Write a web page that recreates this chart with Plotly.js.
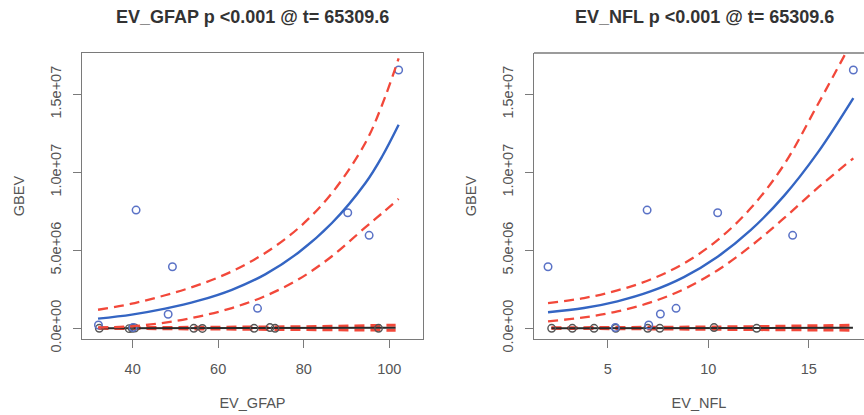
<!DOCTYPE html>
<html>
<head>
<meta charset="utf-8">
<script src="https://cdn.plot.ly/plotly-3.0.1.min.js"></script>
<style>html,body{margin:0;padding:0;background:#fff;}#chart{width:864px;height:415px;}</style>
</head>
<body>
<div id="chart"></div>
<script>
// ---------- data ----------
const titles = ["EV_GFAP p <0.001 @ t= 65309.6", "EV_NFL p <0.001 @ t= 65309.6"];
const xLabels = ["EV_GFAP", "EV_NFL"];
const yLabel = "GBEV";
const yTickVals = [0, 5e6, 1e7, 1.5e7];
const yTickText = ["0.0e+00", "5.0e+06", "1.0e+07", "1.5e+07"];
const gfapTickVals = [40, 60, 80, 100];
const nflTickVals = [5, 10, 15];

// left panel: EV_GFAP
const gfapBlueX = [32.0, 40.1, 40.8, 48.3, 49.3, 69.2, 90.3, 95.3, 102.2];
const gfapBlueY = [0.21e6, 0.05e6, 7.58e6, 0.9e6, 3.95e6, 1.28e6, 7.41e6, 5.96e6, 16.56e6];
const gfapBlackX = [32.2, 39.2, 39.9, 40.5, 54.3, 56.3, 68.4, 72.1, 73.3, 97.5];
const gfapBlackY = [0, -0.02e6, 0, 0.02e6, 0, -0.01e6, 0, 0.05e6, 0, 0];
const gfapCurveX = [31.9, 39.8, 47.6, 55.4, 63.2, 71.0, 78.8, 86.6, 94.4, 98.3, 102.2];
const gfapFit   = [0.62e6, 0.88e6, 1.26e6, 1.77e6, 2.47e6, 3.46e6, 4.86e6, 6.75e6, 9.3e6, 11.0e6, 13.05e6];
const gfapUpper = [1.19e6, 1.58e6, 2.12e6, 2.78e6, 3.65e6, 4.83e6, 6.43e6, 8.67e6, 11.88e6, 14.3e6, 17.3e6];
const gfapLower = [0.05e6, 0.13e6, 0.37e6, 0.75e6, 1.30e6, 2.07e6, 3.14e6, 4.62e6, 6.47e6, 7.37e6, 8.30e6];
const gfapZeroX = [32.0, 60.0, 80.0, 101.5];
const gfapZeroFit = [0.01e6, 0.015e6, 0.02e6, 0.03e6];
const gfapZeroUpper = [0.03e6, 0.06e6, 0.1e6, 0.2e6];
const gfapZeroLower = [0.0, -0.03e6, -0.06e6, -0.12e6];

// right panel: EV_NFL
const nflBlueX = [2.03, 5.38, 6.96, 7.04, 7.62, 8.4, 10.47, 14.2, 17.22];
const nflBlueY = [3.95e6, 0.05e6, 7.58e6, 0.21e6, 0.92e6, 1.28e6, 7.41e6, 5.96e6, 16.56e6];
const nflBlackX = [2.21, 3.24, 4.32, 5.40, 6.99, 7.59, 10.29, 12.41];
const nflBlackY = [0, 0, 0, 0, 0, 0, 0.05e6, 0];
const nflCurveX = [2.03, 3.82, 5.48, 7.13, 8.79, 10.45, 12.11, 13.77, 15.43, 17.22];
const nflFit   = [1.03e6, 1.30e6, 1.73e6, 2.36e6, 3.28e6, 4.57e6, 6.29e6, 8.49e6, 11.23e6, 14.76e6];
const nflUpper = [1.62e6, 1.94e6, 2.43e6, 3.13e6, 4.16e6, 5.64e6, 7.69e6, 10.49e6, 14.3e6, 18.55e6];
const nflLower = [0.45e6, 0.70e6, 1.08e6, 1.66e6, 2.51e6, 3.71e6, 5.26e6, 7.06e6, 8.98e6, 10.9e6];
const nflZeroX = [2.2, 8.0, 12.0, 17.2];
const nflZeroFit = [0.01e6, 0.015e6, 0.02e6, 0.03e6];
const nflZeroUpper = [0.03e6, 0.06e6, 0.1e6, 0.2e6];
const nflZeroLower = [0.0, -0.03e6, -0.06e6, -0.12e6];

// ---------- styles ----------
const BLUE_LINE = "#3465c3";
const BLUE_PT = "#5a72c6";
const RED = "#f2483a";
const BLACK = "#2a2a2a";
const GREY = "#555555";
const FONT = "Liberation Sans, Arial, Helvetica, sans-serif";

function panel(xa, ya, blueX, blueY, blackX, blackY, cx, fit, up, lo, zx, zf, zu, zl) {
  const common = {xaxis: xa, yaxis: ya, hoverinfo: "skip", showlegend: false};
  return [
    Object.assign({x: zx, y: zu, mode: "lines", line: {color: RED, width: 3, dash: "10px,6px"}}, common),
    Object.assign({x: zx, y: zl, mode: "lines", line: {color: RED, width: 3, dash: "10px,6px"}}, common),
    Object.assign({x: zx, y: zf, mode: "lines", line: {color: BLACK, width: 2}}, common),
    Object.assign({x: blackX, y: blackY, mode: "markers", marker: {symbol: "circle-open", size: 7.5, color: "#555555", line: {width: 1.4}}}, common),
    Object.assign({x: blueX, y: blueY, mode: "markers", marker: {symbol: "circle-open", size: 7.5, color: BLUE_PT, line: {width: 1.5}}}, common),
    Object.assign({x: cx, y: up, mode: "lines", line: {color: RED, width: 2.3, dash: "10px,6px", shape: "spline"}}, common),
    Object.assign({x: cx, y: lo, mode: "lines", line: {color: RED, width: 2.3, dash: "10px,6px", shape: "spline"}}, common),
    Object.assign({x: cx, y: fit, mode: "lines", line: {color: BLUE_LINE, width: 2.4, shape: "spline"}}, common)
  ];
}

const data = [].concat(
  panel("x", "y", gfapBlueX, gfapBlueY, gfapBlackX, gfapBlackY, gfapCurveX, gfapFit, gfapUpper, gfapLower, gfapZeroX, gfapZeroFit, gfapZeroUpper, gfapZeroLower),
  panel("x2", "y2", nflBlueX, nflBlueY, nflBlackX, nflBlackY, nflCurveX, nflFit, nflUpper, nflLower, nflZeroX, nflZeroFit, nflZeroUpper, nflZeroLower)
);

const yDomain = [0.1831, 0.8723];
const yRange = [-0.686e6, 17.65e6];

function xAxis(domain, range, ticks, label, mirror) {
  return {
    domain: domain, range: range, tickmode: "array", tickvals: ticks,
    showgrid: false, zeroline: false, showline: true, mirror: mirror,
    linecolor: "#7a7a7a", linewidth: 1.3, ticks: "outside", ticklen: 8, tickwidth: 1.2, tickcolor: "#7a7a7a",
    tickfont: {family: FONT, size: 14.5, color: GREY}, ticklabelstandoff: 8,
    title: {text: label, font: {family: FONT, size: 14.5, color: GREY}, standoff: 22},
    automargin: false, fixedrange: true
  };
}
function yAxis(anchor, mirror) {
  return {
    domain: yDomain, range: yRange, anchor: anchor, tickmode: "array", tickvals: yTickVals, ticktext: yTickText,
    tickangle: -90, showgrid: false, zeroline: false, showline: true, mirror: mirror,
    linecolor: "#7a7a7a", linewidth: 1.3, ticks: "outside", ticklen: 8, tickwidth: 1.2, tickcolor: "#7a7a7a",
    tickfont: {family: FONT, size: 14.5, color: GREY}, ticklabelstandoff: 6,
    title: {text: yLabel, font: {family: FONT, size: 14.5, color: GREY}, standoff: 19},
    automargin: false, fixedrange: true
  };
}

const layout = {
  width: 864, height: 415,
  margin: {l: 0, r: 0, t: 0, b: 0},
  paper_bgcolor: "#ffffff", plot_bgcolor: "#ffffff",
  xaxis: Object.assign(xAxis([0.0949, 0.4896], [28.15, 107.9], gfapTickVals, xLabels[0], true), {anchor: "y"}),
  yaxis: yAxis("x", true),
  xaxis2: Object.assign(xAxis([0.618, 1.0], [1.33, 17.75], nflTickVals, xLabels[1], false), {anchor: "y2"}),
  yaxis2: yAxis("x2", false),
  shapes: [
    {type: "line", xref: "paper", yref: "paper", x0: 0.618, x1: 1.0, y0: yDomain[1], y1: yDomain[1],
     line: {color: "#7a7a7a", width: 1.3}}
  ],
  annotations: [
    {text: "<b>" + titles[0] + "</b>", xref: "paper", yref: "paper", x: 252.5 / 864, y: 1 - 17 / 415,
     xanchor: "center", yanchor: "middle", showarrow: false, font: {family: FONT, size: 18, color: "#333333"}},
    {text: "<b>" + titles[1] + "</b>", xref: "paper", yref: "paper", x: 704.5 / 864, y: 1 - 17 / 415,
     xanchor: "center", yanchor: "middle", showarrow: false, font: {family: FONT, size: 18, color: "#333333"}}
  ]
};

Plotly.newPlot("chart", data, layout, {staticPlot: true, displayModeBar: false});
</script>
</body>
</html>
